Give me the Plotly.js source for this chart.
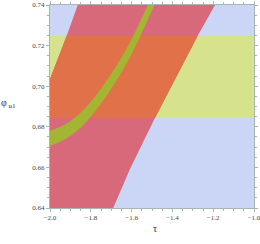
<!DOCTYPE html>
<html>
<head>
<meta charset="utf-8">
<script src="https://cdn.plot.ly/plotly-3.0.1.min.js"></script>
<style>html,body{margin:0;padding:0;background:#fff;}#chart{width:260px;height:244px;}</style>
</head>
<body>
<div id="chart"></div>
<script>
// Axis ranges
const tauRange = [-2.0, -1.0];
const phiRange = [0.64, 0.74];

// Horizontal (yellow-green) allowed band in phi_u1
const bandLow = 0.6845;
const bandHigh = 0.7248;

// Red region: left boundary (bottom -> top) and right boundary (bottom -> top)
const leftEdgeTau = [-2.0, -1.918, -1.864];
const leftEdgePhi = [0.7035, 0.7248, 0.74];
const rightEdgeTau = [-1.69, -1.608, -1.494, -1.485, -1.276, -1.191];
const rightEdgePhi = [0.64, 0.6592, 0.6822, 0.6845, 0.7248, 0.74];

// Green curved band: lower and upper boundaries
const curveTau  = [-2.04, -2.0, -1.951, -1.902, -1.853, -1.804, -1.755, -1.706, -1.657, -1.608, -1.559, -1.505, -1.47];
const curveLow  = [0.6692, 0.6706, 0.6725, 0.6753, 0.6793, 0.6845, 0.6907, 0.6977, 0.7055, 0.7143, 0.7242, 0.7363, 0.7448];
const curveHigh = [0.6766, 0.6780, 0.6799, 0.6827, 0.6867, 0.6919, 0.6981, 0.7051, 0.7129, 0.7217, 0.7316, 0.7437, 0.7522];

const colBlue = '#cbd6f6';
const colYellow = '#d6e38c';
const colPink = '#d7697a';
const colOrange = '#e07148';
const colGreen = '#a3b532';

function poly(xs, ys, color, smooth) {
  return {x: xs.concat([xs[0]]), y: ys.concat([ys[0]]), type: 'scatter', mode: 'lines',
    fill: 'toself', fillcolor: color,
    line: {width: 0, color: color, shape: smooth ? 'spline' : 'linear', smoothing: 1},
    hoverinfo: 'skip', showlegend: false};
}

// Yellow band
const yBandX = [tauRange[0] - 0.1, tauRange[1] + 0.1, tauRange[1] + 0.1, tauRange[0] - 0.1];
const yBandY = [bandLow, bandLow, bandHigh, bandHigh];

// Pink polygon: bottom-left corner, right edge up, left edge down
const pinkX = [tauRange[0]].concat(rightEdgeTau, leftEdgeTau.slice().reverse());
const pinkY = [phiRange[0]].concat(rightEdgePhi, leftEdgePhi.slice().reverse());

// Orange = pink within the band
const inBand = (p) => p >= bandLow - 1e-9 && p <= bandHigh + 1e-9;
const rIn = rightEdgeTau.map((t, i) => [t, rightEdgePhi[i]]).filter(d => inBand(d[1]));
const lIn = leftEdgeTau.map((t, i) => [t, leftEdgePhi[i]]).filter(d => inBand(d[1])).reverse();
const orX = [tauRange[0]].concat(rIn.map(d => d[0]), lIn.map(d => d[0]));
const orY = [bandLow].concat(rIn.map(d => d[1]), lIn.map(d => d[1]));

// Green band polygon
const gX = curveTau.concat(curveTau.slice().reverse());
const gY = curveLow.concat(curveHigh.slice().reverse());

const traces = [
  poly(yBandX, yBandY, colYellow, false),
  poly(pinkX, pinkY, colPink, false),
  poly(orX, orY, colOrange, false),
  poly(gX, gY, colGreen, true)
];

const frame = '#a7b5b5';
const tickFont = {family: 'Liberation Serif', size: 7, color: '#444'};

const layout = {
  width: 260, height: 244,
  margin: {l: 50, r: 6, t: 5, b: 36},
  paper_bgcolor: '#ffffff',
  plot_bgcolor: colBlue,
  showlegend: false,
  xaxis: {
    range: tauRange, dtick: 0.2, tick0: -2, tickformat: '.1f', ticklabeloverflow: 'allow',
    showgrid: false, zeroline: false, showline: true, linecolor: frame, linewidth: 1,
    mirror: 'ticks', ticks: 'outside', ticklen: 3, tickcolor: frame, tickfont: tickFont,
    minor: {dtick: 0.05, ticks: 'outside', ticklen: 2, tickcolor: frame, showgrid: false}
  },
  yaxis: {
    range: phiRange, dtick: 0.02, tick0: 0.64, tickformat: '.2f', ticklabeloverflow: 'allow',
    showgrid: false, zeroline: false, showline: true, linecolor: frame, linewidth: 1,
    mirror: 'ticks', ticks: 'outside', ticklen: 3, tickcolor: frame, tickfont: tickFont,
    minor: {dtick: 0.005, ticks: 'outside', ticklen: 2, tickcolor: frame, showgrid: false}
  },
  annotations: [
    {text: 'φ<sub> u1</sub>', xref: 'paper', yref: 'paper', x: -0.205, y: 0.515, xanchor: 'center', yanchor: 'middle',
     showarrow: false, font: {family: 'Liberation Serif', size: 10, color: '#333'}},
    {text: 'τ', xref: 'paper', yref: 'paper', x: 0.515, y: -0.10, xanchor: 'center', yanchor: 'middle',
     showarrow: false, font: {family: 'Liberation Serif', size: 10, color: '#333'}}
  ]
};

Plotly.newPlot('chart', traces, layout, {staticPlot: true, displayModeBar: false});
</script>
</body>
</html>
